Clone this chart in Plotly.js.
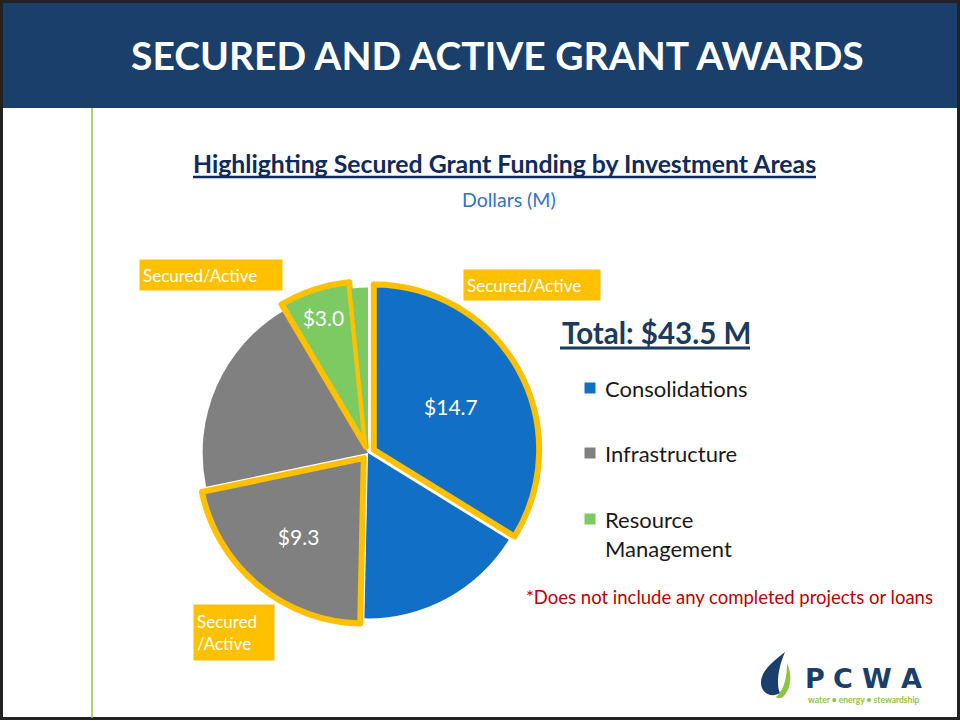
<!DOCTYPE html>
<html>
<head>
<meta charset="utf-8">
<script src="https://cdn.plot.ly/plotly-3.0.1.min.js"></script>
<style>html,body{margin:0;padding:0;background:#fff;}#chart{width:960px;height:721px;}</style>
</head>
<body>
<div id="chart"></div>
<script>
// ---- data ----
const sliceLabels = ["Consolidations – Secured/Active", "Consolidations – Other", "Infrastructure – Secured/Active", "Infrastructure – Other", "Resource Management – Secured/Active", "Resource Management – Other"];
const sliceValues = [14.7, 7.2, 9.3, 8.6, 3.0, 0.7];
const sliceText = ["$14.7", "", "$9.3", "", "$3.0", ""];
const secured = [true, false, true, false, true, false];
const legendCategories = ["Consolidations", "Infrastructure", "Resource<br>Management"];
const totalLabel = "Total: $43.5 M";
const calloutText = ["Secured/Active", "Secured/Active", "Secured<br>/Active"];
const logoLetters = ["P", "C", "W", "A"];

// ---- styles ----
const catColors = ["#1170C6", "#1170C6", "#808080", "#808080", "#7DC962", "#7DC962"];
const legendColors = ["#1170C6", "#808080", "#7DC962"];
const gold = "#FFC000";
const W = 960, H = 721;
const px = x => x / W;
const py = y => 1 - y / H;
const FONT = "Lato, 'Open Sans', sans-serif";

const pull = 0.04;
const cx = 368, cy = 453, half = 172;

const trace = {
  type: "pie",
  labels: sliceLabels,
  values: sliceValues,
  text: sliceText,
  textinfo: "text",
  textposition: "inside",
  insidetextorientation: "horizontal",
  insidetextfont: {color: "#ffffff", size: 21, family: FONT},
  sort: false,
  direction: "clockwise",
  rotation: 0,
  pull: secured.map(s => s ? pull : 0),
  marker: {
    colors: catColors,
    line: {color: secured.map(s => s ? gold : "rgba(0,0,0,0)"), width: secured.map(s => s ? 6 : 0)}
  },
  domain: {x: [px(cx - half), px(cx + half)], y: [py(cy + half), py(cy - half)]},
  hoverinfo: "label+value",
  showlegend: false
};

const shapes = [
  {type: "rect", xref: "paper", yref: "paper", x0: 0, x1: 1, y0: py(108), y1: 1, fillcolor: "#1B3F6B", line: {width: 0}, layer: "below"},
  {type: "rect", xref: "paper", yref: "paper", x0: px(1.5), x1: px(958.5), y0: py(718.5), y1: py(1.5), line: {color: "#222222", width: 3}, fillcolor: "rgba(0,0,0,0)"},
  {type: "line", xref: "paper", yref: "paper", x0: px(92), x1: px(92), y0: py(108), y1: py(718), line: {color: "#8CC63F", width: 1.5}},
  {type: "line", xref: "paper", yref: "paper", x0: px(193), x1: px(816), y0: py(177), y1: py(177), line: {color: "#0F2B5E", width: 2.5}},
  {type: "line", xref: "paper", yref: "paper", x0: px(560), x1: px(750), y0: py(348), y1: py(348), line: {color: "#1B3A5C", width: 3}}
];

const legendY = [388, 453, 519];
legendColors.forEach((c, i) => {
  shapes.push({type: "rect", xref: "paper", yref: "paper", x0: px(584.5), x1: px(595.5), y0: py(legendY[i] + 5.5), y1: py(legendY[i] - 5.5), fillcolor: c, line: {width: 0}});
});

// PCWA logo droplet
shapes.push({type: "path", xref: "paper", yref: "paper",
  path: `M ${px(785)} ${py(652)} C ${px(772)} ${py(662)} ${px(760)} ${py(672)} ${px(761)} ${py(684)} C ${px(762)} ${py(694)} ${px(772)} ${py(698)} ${px(780)} ${py(693)} C ${px(776)} ${py(685)} ${px(778)} ${py(668)} ${px(785)} ${py(652)} Z`,
  fillcolor: "#1B3F6B", line: {width: 0}});
shapes.push({type: "path", xref: "paper", yref: "paper",
  path: `M ${px(787)} ${py(663)} C ${px(792)} ${py(674)} ${px(792)} ${py(688)} ${px(783)} ${py(697)} C ${px(779)} ${py(699)} ${px(776)} ${py(698)} ${px(776)} ${py(697)} C ${px(784)} ${py(690)} ${px(787)} ${py(678)} ${px(787)} ${py(663)} Z`,
  fillcolor: "#8CC63F", line: {width: 0}});

function ann(text, x, y, font, extra) {
  return Object.assign({text: text, x: px(x), y: py(y), xref: "paper", yref: "paper", xanchor: "center", yanchor: "middle", showarrow: false, font: font}, extra || {});
}

const annotations = [
  ann("<b>SECURED AND ACTIVE GRANT AWARDS</b>", 497, 55, {family: FONT, size: 39, color: "#ffffff"}),
  ann("<b>Highlighting Secured Grant Funding by Investment Areas</b>", 505, 163, {family: FONT, size: 24.8, color: "#0F2B5E"}),
  ann("Dollars (M)", 509, 199, {family: FONT, size: 19.5, color: "#2E75C6"}),
  ann("<b>" + totalLabel + "</b>", 560, 332, {family: FONT, size: 29.5, color: "#1B3A5C"}, {xanchor: "left"}),
  ann("*Does not include any completed projects or loans", 524, 597, {family: FONT, size: 18.5, color: "#C00000"}, {xanchor: "left"}),
  ann(calloutText[0], 211, 275, {family: FONT, size: 17, color: "#ffffff"}, {bgcolor: gold, width: 136, height: 24, borderpad: 3, align: "left"}),
  ann(calloutText[1], 532, 285, {family: FONT, size: 17, color: "#ffffff"}, {bgcolor: gold, width: 130, height: 24, borderpad: 3, align: "left"}),
  ann(calloutText[2], 234, 632.5, {family: FONT, size: 17, color: "#ffffff"}, {bgcolor: gold, width: 74, height: 49, borderpad: 3, align: "left"}),
  ann("<b>water • energy • stewardship</b>", 864, 700, {family: FONT, size: 8.5, color: "#8CC63F"})
];

const logoX = [815, 843, 877, 911];
logoLetters.forEach((l, i) => {
  annotations.push(ann("<b>" + l + "</b>", logoX[i], 678, {family: "'DejaVu Sans', sans-serif", size: 27, color: "#1B3F6B"}));
});

const legendCenters = [388, 453, 533.5];
legendCategories.forEach((t, i) => {
  annotations.push(ann(t, 603, legendCenters[i], {family: FONT, size: 22, color: "#1A1A1A"}, {xanchor: "left", align: "left"}));
});

const layout = {
  width: W, height: H,
  margin: {l: 0, r: 0, t: 0, b: 0},
  paper_bgcolor: "#ffffff",
  plot_bgcolor: "#ffffff",
  showlegend: false,
  shapes: shapes,
  annotations: annotations
};

Plotly.newPlot("chart", [trace], layout, {displayModeBar: false, staticPlot: true});
</script>
</body>
</html>
